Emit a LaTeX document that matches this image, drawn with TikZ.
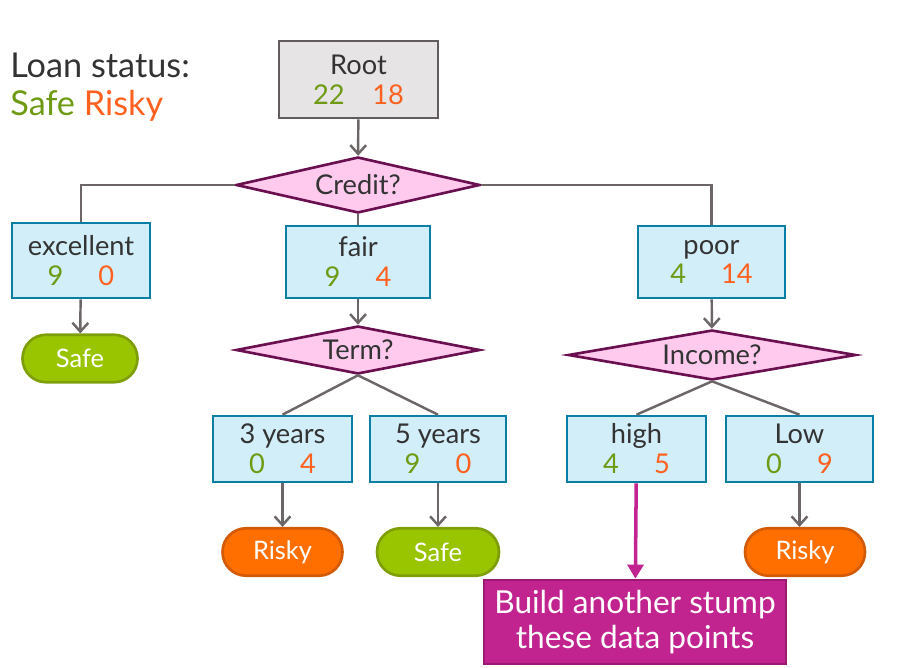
\documentclass[tikz,border=0pt]{standalone}
\usepackage{fontspec}
\setmainfont{Lato}
\usetikzlibrary{positioning, arrows.meta, shapes.geometric}

\definecolor{safegreen}{HTML}{6E9A14}
\definecolor{riskyorange}{HTML}{FF6120}
\definecolor{linegray}{HTML}{6D6667}
\definecolor{inkgray}{HTML}{333333}
\definecolor{rootfill}{HTML}{E6E4E4}
\definecolor{nodefill}{HTML}{D2EEF9}
\definecolor{nodeedge}{HTML}{0A7EA4}
\definecolor{splitfill}{HTML}{FFCAEE}
\definecolor{splitedge}{HTML}{6A1050}
\definecolor{leafgreen}{HTML}{99C400}
\definecolor{leafgreenedge}{HTML}{7E9E0A}
\definecolor{leaforange}{HTML}{FF6F00}
\definecolor{leaforangeedge}{HTML}{D35A06}
\definecolor{stumpfill}{HTML}{C1238F}
\definecolor{stumpedge}{HTML}{9C1A74}

\newcommand{\counts}[3][0.7cm]{{\color{safegreen}#2}\hspace{#1}{\color{riskyorange}#3}}

\begin{document}
\begin{tikzpicture}[
        x=0.02cm, y=-0.02cm,
        font=\fontsize{15.5}{17}\selectfont,
        data_node/.style={draw=nodeedge, line width=1.5pt, fill=nodefill, rectangle, align=center, text=inkgray, inner sep=0pt},
        root_node/.style={data_node, draw=linegray!90!black, fill=rootfill},
        split_node/.style={draw=splitedge, line width=1.5pt, fill=splitfill, diamond, inner sep=0pt, text=inkgray},
        leaf_safe/.style={draw=leafgreenedge, line width=1.5pt, fill=leafgreen, rectangle, rounded corners=0.47cm, text=white, minimum width=2.3cm, minimum height=0.95cm, font=\fontsize{14.5}{17}\selectfont},
        leaf_risky/.style={leaf_safe, draw=leaforangeedge, fill=leaforange, minimum width=2.4cm},
        edge/.style={draw=linegray, line width=1.4pt},
        arrow/.style={edge, -{Straight Barb[length=5pt, width=9pt]}},
        stump_arrow/.style={draw=stumpfill, line width=2pt, -{Triangle[length=8pt, width=9pt]}}
    ]
        \useasboundingbox (0,0) rectangle (908,668);

        % legend
        \node[anchor=west, font=\fontsize{19.5}{20}\selectfont, text=inkgray, align=left, inner sep=0pt] (legend) at (10,87) {Loan status:\\[2pt]{\color{safegreen}Safe} {\color{riskyorange}Risky}};

        % root and first split
        \node[root_node, minimum width=3.18cm, minimum height=1.54cm] (root) at (358.5,79.5) {Root\\\counts[0.55cm]{22}{18}};
        \node[split_node, aspect=4.36, minimum width=4.88cm, minimum height=1.12cm] (credit) at (358,185) {Credit?};

        \node[data_node, minimum width=2.76cm, minimum height=1.5cm] (excellent) at (81,260.5) {excellent\\\counts{9}{0}};
        \node[data_node, minimum width=2.88cm, minimum height=1.44cm] (fair) at (358,262) {fair\\\counts{9}{4}};
        \node[data_node, minimum width=2.94cm, minimum height=1.44cm] (poor) at (711.5,262) {poor\\\counts{4}{14}};

        % second level splits
        \node[leaf_safe] (excellent_leaf) at (80,358.5) {Safe};
        \node[split_node, aspect=5.1, minimum width=4.88cm, minimum height=0.96cm] (term) at (358,350) {Term?};
        \node[split_node, aspect=4.4, minimum width=5.76cm, minimum height=1cm] (income) at (712,355) {Income?};

        \node[data_node, minimum width=2.78cm, minimum height=1.32cm] (three_years) at (282.5,449) {3 years\\\counts{0}{4}};
        \node[data_node, minimum width=2.72cm, minimum height=1.32cm] (five_years) at (438,449) {5 years\\\counts{9}{0}};
        \node[data_node, minimum width=2.78cm, minimum height=1.32cm] (high) at (636.5,449) {high\\\counts{4}{5}};
        \node[data_node, minimum width=2.94cm, minimum height=1.32cm] (low) at (799.5,449) {Low\\\counts{0}{9}};

        % leaves
        \node[leaf_risky] (three_leaf) at (282.5,552) {Risky};
        \node[leaf_safe, minimum width=2.44cm] (five_leaf) at (438,552) {Safe};
        \node[leaf_risky] (low_leaf) at (805,552) {Risky};

        \node[draw=stumpedge, line width=1.5pt, fill=stumpfill, text=white, align=center, font=\fontsize{18}{19.5}\selectfont, minimum width=6.04cm, minimum height=1.68cm] (stump) at (635,622) {Build another stump\\these data points};

        % connectors
        \draw[arrow] (root) -- (credit);
        \draw[edge] (credit.west) -| (excellent.north);
        \draw[edge] (credit.east) -| (poor.north);
        \draw[edge] (credit.south) -- (fair.north);
        \draw[arrow] (excellent) -- (excellent_leaf);
        \draw[arrow] (fair) -- (term);
        \draw[arrow] (poor) -- (income);
        \draw[edge] (term.south) -- (three_years.north);
        \draw[edge] (term.south) -- (five_years.north);
        \draw[edge] (income.south) -- (high.north);
        \draw[edge] (income.south) -- (low.north);
        \draw[arrow] (three_years) -- (three_leaf);
        \draw[arrow] (five_years) -- (five_leaf);
        \draw[arrow] (low.south) -- (low.south |- low_leaf.north);
        \draw[stump_arrow] (high) -- (stump);

    \end{tikzpicture}
\end{document}
